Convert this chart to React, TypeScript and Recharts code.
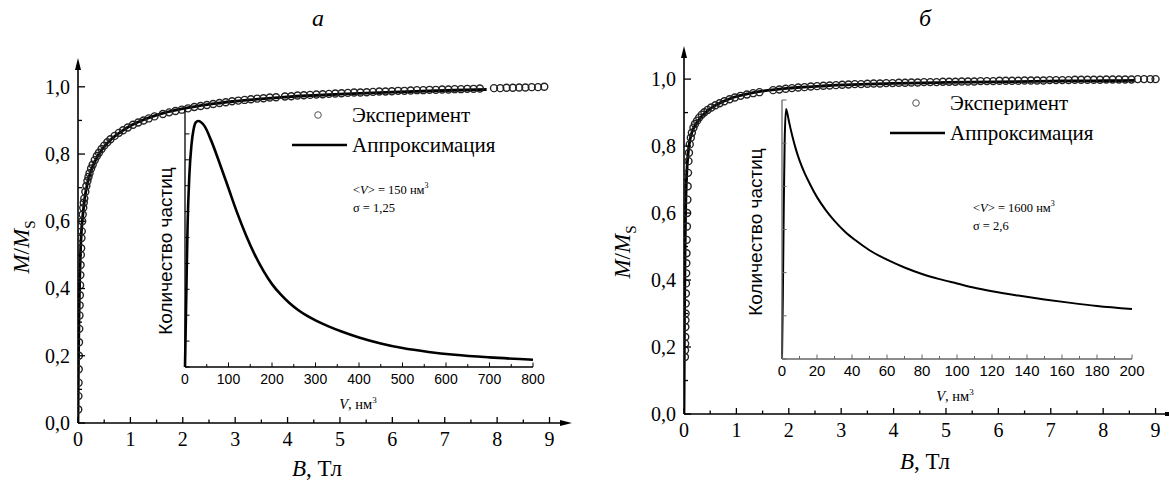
import { ComposedChart, LineChart, Line, Scatter, XAxis, YAxis } from "recharts";

const SERIF = "'Liberation Serif', 'Times New Roman', serif";
const SANS = "'Liberation Sans', Arial, sans-serif";

// panel а — experiment [B, M/Ms]
const experimentA: [number, number][] = [
  [0.005, 0.04], [0.008, 0.08], [0.011, 0.12], [0.014, 0.16], [0.017, 0.2], [0.02, 0.24],
  [0.024, 0.28], [0.028, 0.32], [0.032, 0.35], [0.036, 0.38], [0.04, 0.41], [0.045, 0.44],
  [0.05, 0.47], [0.055, 0.5], [0.06, 0.52], [0.066, 0.55], [0.072, 0.57], [0.08, 0.6],
  [0.09, 0.62], [0.1, 0.64], [0.11, 0.655], [0.12, 0.668], [0.14, 0.688], [0.16, 0.705],
  [0.18, 0.72], [0.2, 0.732], [0.22, 0.743], [0.25, 0.757], [0.28, 0.768], [0.32, 0.782],
  [0.36, 0.794], [0.4, 0.804], [0.45, 0.815], [0.5, 0.825], [0.56, 0.835], [0.62, 0.844],
  [0.7, 0.854], [0.78, 0.863], [0.86, 0.871], [0.95, 0.879], [1.05, 0.887], [1.15, 0.894],
  [1.25, 0.9], [1.35, 0.906], [1.46, 0.912], [1.62, 0.919], [1.74, 0.924], [1.86, 0.928],
  [1.98, 0.932], [2.1, 0.936], [2.22, 0.94], [2.34, 0.943], [2.46, 0.946], [2.58, 0.949],
  [2.7, 0.952], [2.82, 0.954], [2.94, 0.957], [3.06, 0.959], [3.18, 0.961], [3.3, 0.963],
  [3.42, 0.965], [3.54, 0.966], [3.66, 0.968], [3.78, 0.969], [3.95, 0.971], [4.07, 0.972],
  [4.19, 0.974], [4.31, 0.975], [4.43, 0.976], [4.55, 0.977], [4.67, 0.978], [4.79, 0.979],
  [4.91, 0.98], [5.03, 0.981], [5.15, 0.982], [5.27, 0.983], [5.39, 0.983], [5.51, 0.984],
  [5.63, 0.985], [5.75, 0.986], [5.87, 0.986], [5.99, 0.987], [6.11, 0.988], [6.23, 0.988],
  [6.35, 0.989], [6.47, 0.99], [6.59, 0.99], [6.71, 0.991], [6.83, 0.991], [6.95, 0.992],
  [7.07, 0.992], [7.19, 0.993], [7.31, 0.993], [7.43, 0.994], [7.55, 0.994], [7.67, 0.995],
  [7.94, 0.996], [8.06, 0.996], [8.18, 0.997], [8.3, 0.997], [8.42, 0.998], [8.54, 0.998],
  [8.66, 0.999], [8.78, 0.999], [8.9, 1.0],
];

// panel а — approximation
const fitA: [number, number][] = [
  [0, 0], [0.005, 0.1], [0.01, 0.2], [0.02, 0.32], [0.03, 0.41], [0.04, 0.47], [0.05, 0.52],
  [0.07, 0.58], [0.1, 0.63], [0.13, 0.67], [0.18, 0.712], [0.23, 0.742], [0.3, 0.77],
  [0.4, 0.8], [0.5, 0.822], [0.65, 0.846], [0.8, 0.864], [1.0, 0.884], [1.25, 0.902],
  [1.5, 0.916], [2.0, 0.935], [2.5, 0.948], [3.0, 0.957], [3.5, 0.964], [4.0, 0.97],
  [5.0, 0.978], [6.0, 0.984], [7.0, 0.989], [7.8, 0.992],
];

// panel а — inset: volume distribution [V, count]
const distA: [number, number][] = [
  [0, 0], [3, 2.8], [6, 5.5], [10, 7.4], [15, 8.6], [20, 9.2], [25, 9.45], [30, 9.5],
  [45, 9.3], [60, 8.75], [80, 7.85], [100, 6.9], [120, 5.95], [140, 5.1], [160, 4.35],
  [180, 3.72], [200, 3.2], [220, 2.8], [240, 2.47], [260, 2.2], [280, 1.98], [300, 1.8],
  [330, 1.57], [360, 1.37], [400, 1.14], [450, 0.91], [500, 0.73], [560, 0.58], [620, 0.47],
  [700, 0.37], [800, 0.28],
];

// panel б — experiment
const experimentB: [number, number][] = [
  [0.018, 0.17], [0.02, 0.19], [0.022, 0.21], [0.024, 0.23], [0.026, 0.26], [0.028, 0.28],
  [0.03, 0.3], [0.033, 0.33], [0.036, 0.36], [0.039, 0.39], [0.042, 0.42], [0.045, 0.45],
  [0.048, 0.48], [0.052, 0.52], [0.056, 0.56], [0.06, 0.6], [0.065, 0.64], [0.07, 0.68],
  [0.077, 0.72], [0.085, 0.755], [0.095, 0.78], [0.11, 0.805], [0.13, 0.825], [0.15, 0.84],
  [0.18, 0.855], [0.21, 0.866], [0.25, 0.876], [0.29, 0.885], [0.34, 0.894], [0.39, 0.901],
  [0.45, 0.908], [0.52, 0.915], [0.6, 0.922], [0.68, 0.928], [0.77, 0.934], [0.87, 0.94],
  [0.97, 0.945], [1.08, 0.95], [1.2, 0.954], [1.32, 0.958], [1.44, 0.961], [1.7, 0.967],
  [1.82, 0.969], [1.94, 0.971], [2.06, 0.973], [2.18, 0.975], [2.3, 0.976], [2.42, 0.978],
  [2.54, 0.979], [2.66, 0.98], [2.78, 0.981], [2.9, 0.982], [3.02, 0.983], [3.14, 0.984],
  [3.26, 0.985], [3.38, 0.985], [3.5, 0.986], [3.62, 0.987], [3.74, 0.987], [3.86, 0.988],
  [3.98, 0.988], [4.1, 0.989], [4.22, 0.989], [4.34, 0.99], [4.46, 0.99], [4.58, 0.991],
  [4.7, 0.991], [4.82, 0.991], [4.94, 0.992], [5.06, 0.992], [5.18, 0.992], [5.3, 0.993],
  [5.42, 0.993], [5.54, 0.993], [5.66, 0.994], [5.78, 0.994], [5.9, 0.994], [6.02, 0.995],
  [6.14, 0.995], [6.26, 0.995], [6.38, 0.995], [6.5, 0.996], [6.62, 0.996], [6.74, 0.996],
  [6.86, 0.996], [6.98, 0.997], [7.1, 0.997], [7.22, 0.997], [7.34, 0.997], [7.46, 0.998],
  [7.58, 0.998], [7.7, 0.998], [7.82, 0.998], [7.94, 0.998], [8.06, 0.999], [8.18, 0.999],
  [8.3, 0.999], [8.42, 0.999], [8.54, 0.999], [8.66, 1.0], [8.78, 1.0], [8.9, 1.0], [9.0, 1.0],
];

// panel б — approximation
const fitB: [number, number][] = [
  [0, 0], [0.005, 0.15], [0.01, 0.3], [0.02, 0.48], [0.03, 0.6], [0.045, 0.69], [0.06, 0.74],
  [0.08, 0.78], [0.11, 0.815], [0.16, 0.845], [0.24, 0.869], [0.33, 0.888], [0.43, 0.903],
  [0.55, 0.917], [0.69, 0.929], [0.85, 0.94], [1.0, 0.948], [1.3, 0.959], [1.64, 0.967],
  [2.0, 0.973], [2.27, 0.976], [2.6, 0.979], [2.91, 0.982], [3.5, 0.985], [4.0, 0.987],
  [5.0, 0.99], [6.0, 0.992], [7.0, 0.994], [8.0, 0.995], [8.6, 0.996],
];

// panel б — inset
const distB: [number, number][] = [
  [0, 0], [0.5, 1.5], [1, 3.5], [1.5, 5.0], [2.3, 5.79], [3, 5.7], [4, 5.5], [6, 5.15],
  [8, 4.85], [10, 4.6], [13, 4.3], [16, 4.05], [20, 3.75], [25, 3.45], [30, 3.2], [36, 2.95],
  [42, 2.75], [50, 2.52], [60, 2.3], [70, 2.12], [80, 1.97], [90, 1.85], [100, 1.75],
  [110, 1.65], [120, 1.57], [135, 1.47], [150, 1.38], [165, 1.3], [180, 1.23], [200, 1.16],
];

const mainXTicks = [0, 0.5, 1, 1.5, 2, 2.5, 3, 3.5, 4, 4.5, 5, 5.5, 6, 6.5, 7, 7.5, 8, 8.5, 9];
const mainYTicks = [0, 0.1, 0.2, 0.3, 0.4, 0.5, 0.6, 0.7, 0.8, 0.9, 1.0];
const insetXTicksA = [0, 50, 100, 150, 200, 250, 300, 350, 400, 450, 500, 550, 600, 650, 700, 750, 800];
const insetYTicksA = [0, 1, 2, 3, 4, 5, 6, 7, 8, 9, 10];
const insetXTicksB = [0, 10, 20, 30, 40, 50, 60, 70, 80, 90, 100, 110, 120, 130, 140, 150, 160, 170, 180, 190, 200];
const insetYTicksB = [0, 1, 2, 3, 4, 5, 6];

const toBM = (rows: [number, number][]) => rows.map(([B, M]) => ({ B, M }));
const toVN = (rows: [number, number][]) => rows.map(([V, N]) => ({ V, N }));

const Ring = (p: any) => (
  <circle cx={p.cx} cy={p.cy} r={3.5} fill="none" stroke="#222" strokeWidth={1.4} />
);

const MainXTick = ({ x, y, payload }: any) => {
  const v = payload.value;
  const major = Number.isInteger(v);
  return (
    <g>
      <line x1={x} x2={x} y1={y} y2={y - (major ? 6 : 3.5)} stroke="#000" strokeWidth={1.3} />
      {major && (
        <text x={x} y={y + 9} dy="0.71em" textAnchor="middle" fontFamily={SERIF} fontSize={20} fill="#000">
          {v}
        </text>
      )}
    </g>
  );
};

const MainYTick = ({ x, y, payload }: any) => {
  const v = payload.value;
  const major = Math.round(v * 10) % 2 === 0;
  return (
    <g>
      <line x1={x} x2={x + (major ? 7 : 4)} y1={y} y2={y} stroke="#000" strokeWidth={1.3} />
      {major && (
        <text x={x - 8} y={y} dy="0.34em" textAnchor="end" fontFamily={SERIF} fontSize={20} fill="#000">
          {v.toFixed(1).replace(".", ",")}
        </text>
      )}
    </g>
  );
};

const insetXTick = (step: number, color: string, fontSize: number, gap: number) => ({ x, y, payload }: any) => {
  const v = payload.value;
  const major = v % step === 0;
  return (
    <g>
      <line x1={x} x2={x} y1={y} y2={y - (major ? 4.5 : 3)} stroke={color} strokeWidth={1} />
      {major && (
        <text x={x} y={y + gap} dy="0.71em" textAnchor="middle" fontFamily={SANS} fontSize={fontSize} fill="#000">
          {v}
        </text>
      )}
    </g>
  );
};

const insetYTick = (color: string) => ({ x, y }: any) => (
  <line x1={x} x2={x + 4.5} y1={y} y2={y} stroke={color} strokeWidth={1} />
);

const MainPanel = ({
  left, width, top, bottom, xMax, yMax, right, experiment, fit, xEnd,
}: any) => (
  <div style={{ position: "absolute", left, top: 0 }}>
    <ComposedChart width={width} height={482} margin={{ top, right, bottom: 0, left: 0 }}>
      <XAxis
        type="number"
        dataKey="B"
        domain={[0, xMax]}
        ticks={mainXTicks}
        interval={0}
        allowDataOverflow
        height={bottom}
        tickSize={0}
        tickMargin={0}
        tickLine={false}
        tick={MainXTick}
        axisLine={{ stroke: "#000", strokeWidth: 1.6, markerEnd: xEnd }}
      />
      <YAxis
        type="number"
        dataKey="M"
        domain={[0, yMax]}
        ticks={mainYTicks}
        interval={0}
        allowDataOverflow
        width={left === 0 ? 78 : 84}
        tickSize={0}
        tickMargin={0}
        tickLine={false}
        tick={MainYTick}
        axisLine={{ stroke: "#000", strokeWidth: 1.6, markerStart: "url(#arrowUp)" }}
      />
      <Scatter data={toBM(experiment)} dataKey="M" shape={Ring} isAnimationActive={false} />
      <Line
        data={toBM(fit)}
        dataKey="M"
        type="monotone"
        dot={false}
        stroke="#000"
        strokeWidth={2.8}
        isAnimationActive={false}
      />
    </ComposedChart>
  </div>
);

const InsetPanel = ({
  left, top, height, right, data, xTicks, yTicks, xMax, yMax, step, color, fontSize, gap, lineWidth,
}: any) => (
  <div style={{ position: "absolute", left, top }}>
    <LineChart width={400} height={height} margin={{ top: 10, right, bottom: 0, left: 0 }} data={toVN(data)}>
      <XAxis
        type="number"
        dataKey="V"
        domain={[0, xMax]}
        ticks={xTicks}
        interval={0}
        height={height - 269}
        tickSize={0}
        tickMargin={0}
        tickLine={false}
        tick={insetXTick(step, color, fontSize, gap)}
        axisLine={{ stroke: color, strokeWidth: 1.3 }}
      />
      <YAxis
        type="number"
        domain={[0, yMax]}
        ticks={yTicks}
        interval={0}
        width={35}
        tickSize={0}
        tickMargin={0}
        tickLine={false}
        tick={insetYTick(color)}
        axisLine={{ stroke: color, strokeWidth: 1.3 }}
      />
      <Line dataKey="N" type="monotone" dot={false} stroke="#000" strokeWidth={lineWidth} isAnimationActive={false} />
    </LineChart>
  </div>
);

const Legend = ({ x, y }: { x: number; y: number }) => (
  <g fontFamily={SERIF} fontSize={21} fill="#000">
    <circle cx={x - 34} cy={y} r={3.3} fill="none" stroke="#555" strokeWidth={1} />
    <text x={x} y={y} dy="0.33em">Эксперимент</text>
    <line x1={x - 60} x2={x - 5} y1={y + 30} y2={y + 30} stroke="#000" strokeWidth={2.6} />
    <text x={x} y={y + 30} dy="0.33em">Аппроксимация</text>
  </g>
);

const Params = ({ x, y, vol, sigma }: { x: number; y: number; vol: string; sigma: string }) => (
  <g fontFamily={SERIF} fontSize={12.5} fill="#000">
    <text x={x} y={y} dy="0.33em">
      {"<"}<tspan fontStyle="italic">V</tspan>{"> = " + vol + " нм"}
      <tspan dy={-6} fontSize={8}>3</tspan>
    </text>
    <text x={x} y={y + 18} dy="0.33em">{"σ = " + sigma}</text>
  </g>
);

const VLabel = ({ x, y }: { x: number; y: number }) => (
  <text x={x} y={y} dy="0.33em" textAnchor="middle" fontFamily={SERIF} fontSize={14.5} fill="#000">
    <tspan fontStyle="italic">V</tspan>, нм<tspan dy={-6} fontSize={9}>3</tspan>
  </text>
);

const MsLabel = ({ x, y }: { x: number; y: number }) => (
  <text
    transform={`rotate(-90 ${x} ${y})`}
    x={x}
    y={y}
    dy="0.33em"
    textAnchor="middle"
    fontFamily={SERIF}
    fontSize={23}
    fill="#000"
  >
    <tspan fontStyle="italic">M</tspan>/<tspan fontStyle="italic">M</tspan>
    <tspan dy={6} fontSize={15}>S</tspan>
  </text>
);

const CountLabel = ({ x, y }: { x: number; y: number }) => (
  <text
    transform={`rotate(-90 ${x} ${y})`}
    x={x}
    y={y}
    dy="0.35em"
    textAnchor="middle"
    fontFamily={SANS}
    fontSize={19}
    fill="#000"
  >
    Количество частиц
  </text>
);

const BLabel = ({ x, y }: { x: number; y: number }) => (
  <text x={x} y={y} dy="0.33em" textAnchor="middle" fontFamily={SERIF} fontSize={23} fill="#000">
    <tspan fontStyle="italic">B</tspan>, Тл
  </text>
);

export default function App() {
  return (
    <div
      style={{
        position: "absolute",
        left: 0,
        top: 0,
        width: 1169,
        height: 482,
        overflow: "hidden",
        background: "#fff",
      }}
    >
      <svg width={0} height={0} style={{ position: "absolute" }}>
        <defs>
          <marker id="arrowUp" viewBox="0 0 12 6" refX={0} refY={3} markerWidth={12} markerHeight={6}
            markerUnits="userSpaceOnUse" orient="auto-start-reverse">
            <path d="M0,0 L12,3 L0,6 z" fill="#000" />
          </marker>
          <marker id="arrowRight" viewBox="0 0 12 6" refX={0} refY={3} markerWidth={12} markerHeight={6}
            markerUnits="userSpaceOnUse" orient="auto">
            <path d="M0,0 L12,3 L0,6 z" fill="#000" />
          </marker>
          <marker id="squareEnd" viewBox="0 0 4 4" refX={0} refY={2} markerWidth={4} markerHeight={4}
            markerUnits="userSpaceOnUse" orient="auto">
            <rect x={0} y={0} width={4} height={4} fill="#000" />
          </marker>
        </defs>
      </svg>

      <MainPanel left={0} width={580} top={70} bottom={59} right={20} xMax={9.2} yMax={1.05}
        experiment={experimentA} fit={fitA} xEnd="url(#arrowRight)" />
      <MainPanel left={600} width={569} top={58} bottom={68} right={4} xMax={9.18} yMax={1.063}
        experiment={experimentB} fit={fitB} xEnd="url(#squareEnd)" />

      <InsetPanel left={150} top={98} height={320} right={17} data={distA} xTicks={insetXTicksA}
        yTicks={insetYTicksA} xMax={800} yMax={10} step={100} color="#000" fontSize={14} gap={7} lineWidth={2.6} />
      <InsetPanel left={747} top={90} height={310} right={15} data={distB} xTicks={insetXTicksB}
        yTicks={insetYTicksB} xMax={200} yMax={6} step={20} color="#666" fontSize={15} gap={6} lineWidth={2} />

      <svg width={1169} height={482} style={{ position: "absolute", left: 0, top: 0, pointerEvents: "none" }}>
        <text x={318} y={18} dy="0.33em" textAnchor="middle" fontFamily={SERIF} fontStyle="italic" fontSize={24}>а</text>
        <text x={925} y={18} dy="0.33em" textAnchor="middle" fontFamily={SERIF} fontStyle="italic" fontSize={24}>б</text>

        <MsLabel x={21} y={247} />
        <MsLabel x={622} y={252} />
        <BLabel x={317} y={468} />
        <BLabel x={925} y={461} />

        <CountLabel x={165} y={251} />
        <CountLabel x={755} y={232} />
        <VLabel x={358} y={404} />
        <VLabel x={955} y={396} />

        <Legend x={352} y={115} />
        <Legend x={950} y={103} />

        <Params x={353} y={190} vol="150" sigma="1,25" />
        <Params x={973} y={208} vol="1600" sigma="2,6" />
      </svg>
    </div>
  );
}
